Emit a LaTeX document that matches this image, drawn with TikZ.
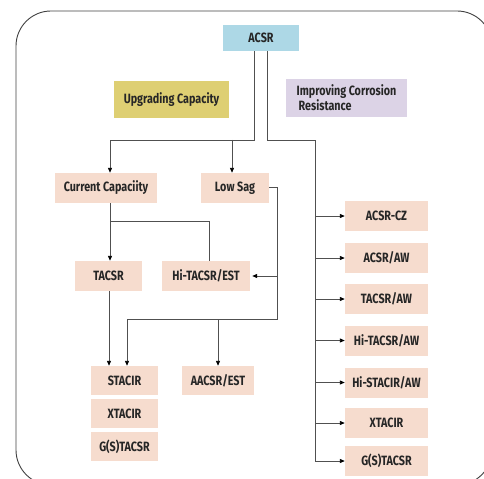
\documentclass[tikz,border=0pt]{standalone}
\usepackage{fontspec}
\setmainfont{Fira Sans}[FakeStretch=0.8]
\usetikzlibrary{arrows.meta}
\definecolor{peach}{RGB}{246,220,206}
\definecolor{skyb}{RGB}{173,216,230}
\definecolor{mustard}{RGB}{222,207,115}
\definecolor{lav}{RGB}{220,211,230}
\definecolor{ln}{RGB}{80,80,80}
\tikzset{
  box/.style={fill=peach, inner sep=0pt, minimum height=30bp, font=\bfseries\fontsize{13.5}{15}\selectfont, text=black!85},
  con/.style={draw=ln, line width=0.9bp},
  arr/.style={con, -{Triangle[length=5bp,width=4bp,fill=black,color=black]}}
}
\begin{document}
\begin{tikzpicture}[x=1bp,y=-1bp]
\useasboundingbox (0,0) rectangle (484,479);
\begin{scope}
\clip (0,0) rectangle (484,479);
\draw[rounded corners=35bp, line width=0.9bp, draw=black!75] (16,11) rectangle (492,485);
\end{scope}
% nodes
\node[box, fill=skyb, minimum width=76bp, minimum height=26bp] (acsr) at (261,38) {ACSR};
\node[box, fill=mustard, minimum width=115bp, minimum height=37bp] (upg) at (171.5,99.5) {Upgrading Capacity};
\node[box, fill=lav, minimum width=121bp, minimum height=38bp, align=left] (imp) at (346.5,98) {Improving Corrosion\\\hspace{2bp}Resistance};
\node[box, minimum width=102bp] (cc) at (106,188) {Current Capaciity};
\node[box, minimum width=68bp] (ls) at (235,188) {Low Sag};
\node[box, minimum width=67bp] (tacsr) at (108.5,276) {TACSR};
\node[box, minimum width=88bp] (hiest) at (206,276) {Hi-TACSR/EST};
\node[box, minimum width=67bp, minimum height=29bp] (stacir) at (124.5,380.5) {STACIR};
\node[box, minimum width=67bp, minimum height=29bp] (xtacirl) at (124.5,413.5) {XTACIR};
\node[box, minimum width=67bp, minimum height=29bp] (gsl) at (124.5,446.5) {G(S)TACSR};
\node[box, minimum width=72bp, minimum height=29bp] (aacsr) at (218,380.5) {AACSR/EST};
\node[box, minimum width=83bp] (r1) at (386.5,216) {ACSR-CZ};
\node[box, minimum width=83bp] (r2) at (386.5,258) {ACSR/AW};
\node[box, minimum width=83bp] (r3) at (386.5,299) {TACSR/AW};
\node[box, minimum width=83bp] (r4) at (386.5,340.5) {Hi-TACSR/AW};
\node[box, minimum width=83bp] (r5) at (386.5,382.5) {Hi-STACIR/AW};
\node[box, minimum width=83bp] (r6) at (386.5,423) {XTACIR};
\node[box, minimum width=83bp] (r7) at (386.5,461) {G(S)TACSR};
% junction coordinates
\coordinate (jl) at (254,140);
\coordinate (jr) at (267,140);
\coordinate (jtop) at (315,140);
\coordinate (xcc) at (110,0);
\coordinate (xls) at (232,0);
\coordinate (jcc) at (110,221);
\coordinate (jhi) at (209,221);
\coordinate (jls) at (277,187);
\coordinate (jlow) at (277,319);
\coordinate (xst) at (127,319);
\coordinate (xaa) at (218,319);
\coordinate (xtl) at (109,0);
\coordinate (jbot) at (315,461);
% connectors
\draw[arr] (jl |- acsr.south) -- (jl) -- (jl -| xcc) -- (xcc |- cc.north);
\draw[arr] (jl -| xls) -- (xls |- ls.north);
\draw[con] (jr |- acsr.south) -- (jr) -- (jtop) -- (jbot);
\foreach \n in {r1,r2,r3,r4,r5,r6,r7} \draw[arr] (jtop |- \n.west) -- (\n.west);
\draw[arr] (xcc |- cc.south) -- (xcc |- tacsr.north);
\draw[con] (jcc) -- (jhi) -- (jhi |- hiest.north);
\draw[con] (jls -| ls.east) -- (jls) -- (jlow) -- (xst);
\draw[arr] (xst) -- (xst |- stacir.north);
\draw[arr] (jls |- hiest.east) -- ([xshift=2bp]hiest.east);
\draw[arr] (xaa) -- (xaa |- aacsr.north);
\draw[arr] (xtl |- tacsr.south) -- (xtl |- stacir.north);
\end{tikzpicture}
\end{document}
